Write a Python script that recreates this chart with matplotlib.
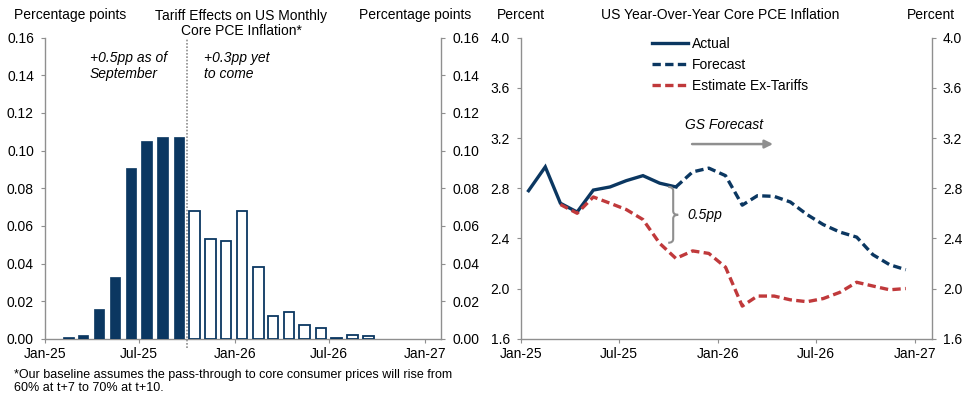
import numpy as np
import pandas as pd
import matplotlib
matplotlib.use("Agg")
import matplotlib.pyplot as plt
import matplotlib.dates as mdates
from matplotlib.path import Path
from matplotlib.patches import PathPatch

plt.rcParams['font.family'] = ['Liberation Sans', 'DejaVu Sans']
plt.rcParams['font.size'] = 10

NAVY = "#0b3761"
RED = "#c0393b"
GRAY = "#8f8f8f"

# ---- data: tariff effect on monthly core PCE (pp) ----
realized_months = pd.date_range("2025-02-01", "2025-09-01", freq="MS")
realized_vals = [0.001, 0.002, 0.016, 0.033, 0.091, 0.105, 0.107, 0.107]
future_months = pd.date_range("2025-10-01", "2026-09-01", freq="MS")
future_vals = [0.068, 0.053, 0.052, 0.068, 0.038, 0.012, 0.0145, 0.0075,
               0.006, 0.0004, 0.0023, 0.0017]

# ---- data: YoY core PCE (%) ----
actual_months = pd.date_range("2025-01-01", "2025-10-01", freq="MS")
actual_vals = [2.78, 2.97, 2.68, 2.61, 2.785, 2.81, 2.86, 2.90, 2.84, 2.81]
forecast_months = pd.date_range("2025-10-01", "2026-12-01", freq="MS")
forecast_vals = [2.81, 2.93, 2.96, 2.90, 2.665, 2.74, 2.735, 2.69, 2.59,
                 2.51, 2.45, 2.41, 2.27, 2.19, 2.15]
extariff_months = pd.date_range("2025-03-01", "2026-12-01", freq="MS")
extariff_vals = [2.67, 2.60, 2.73, 2.68, 2.63, 2.55, 2.36, 2.24, 2.30, 2.28,
                 2.17, 1.86, 1.94, 1.94, 1.91, 1.895, 1.92, 1.97, 2.05, 2.02,
                 1.99, 2.00]

mid = pd.Timedelta(days=14)
xticks = pd.to_datetime(["2025-01-01", "2025-07-01", "2026-01-01",
                         "2026-07-01", "2027-01-01"])
xlim = (pd.Timestamp("2025-01-01"), pd.Timestamp("2027-02-01"))

fig = plt.figure(figsize=(9.67, 3.96), dpi=100)
W, H = 967, 396


def fx(px):
    return px / W


def fy(py):
    return 1 - py / H


def style_axes(ax, yticks, fmt):
    ax.set_xlim(*xlim)
    ax.set_xticks(xticks)
    ax.xaxis.set_major_formatter(mdates.DateFormatter("%b-%y"))
    ax.set_yticks(yticks)
    ax.set_yticklabels([fmt.format(t) for t in yticks])
    ax.set_ylim(yticks[0], yticks[-1])
    ax.spines['top'].set_visible(False)
    for s in ['left', 'right', 'bottom']:
        ax.spines[s].set_color(GRAY)
        ax.spines[s].set_linewidth(1.0)
    ax.tick_params(axis='y', left=True, right=True, labelleft=True,
                   labelright=True, length=3, pad=5, color=GRAY,
                   labelsize=10)
    ax.tick_params(axis='x', length=3, pad=3, color=GRAY, labelsize=10)


# ---------------- left panel ----------------
ax1 = fig.add_axes([fx(45), fy(339), fx(441) - fx(45), fy(37.5) - fy(339)])
bw = 20
ax1.bar(realized_months + mid, realized_vals, width=bw, color=NAVY,
        edgecolor=NAVY, linewidth=0.5, zorder=3)
ax1.bar(future_months + mid, future_vals, width=bw, color="white",
        edgecolor=NAVY, linewidth=1.3, zorder=3)
style_axes(ax1, np.arange(0, 0.161, 0.02), "{:.2f}")
ax1.axvline(pd.Timestamp("2025-10-01"), ymin=-0.03, ymax=1, color=GRAY,
            linestyle=(0, (1, 1)), linewidth=1.2, clip_on=False, zorder=4)
ax1.text(fx(90), fy(66), "+0.5pp as of\nSeptember", transform=fig.transFigure,
         style='italic', ha='left', va='center', linespacing=1.15)
ax1.text(fx(204), fy(66), "+0.3pp yet\nto come", transform=fig.transFigure,
         style='italic', ha='left', va='center', linespacing=1.15)

fig.text(fx(70), fy(15), "Percentage points", ha='center', va='center')
fig.text(fx(241), fy(23.5), "Tariff Effects on US Monthly\nCore PCE Inflation*",
         ha='center', va='center', linespacing=1.15)
fig.text(fx(415), fy(15), "Percentage points", ha='center', va='center')
fig.text(fx(14), fy(381.5),
         "*Our baseline assumes the pass-through to core consumer prices will rise from\n"
         "60% at t+7 to 70% at t+10.", ha='left', va='center', fontsize=9,
         linespacing=1.05)

# ---------------- right panel ----------------
ax2 = fig.add_axes([fx(521), fy(338.7), fx(931.7) - fx(521), fy(37.7) - fy(338.7)])
dash = (0, (2.5, 1.3))
ax2.plot(extariff_months + mid, extariff_vals, color=RED, lw=2.4,
         linestyle=dash, zorder=4, label="Estimate Ex-Tariffs")
ax2.plot(actual_months + mid, actual_vals, color=NAVY, lw=2.4,
         solid_joinstyle='miter', zorder=3, label="Actual")
ax2.plot(forecast_months + mid, forecast_vals, color=NAVY, lw=2.4,
         linestyle=dash, zorder=3, label="Forecast")
style_axes(ax2, np.round(np.arange(1.6, 4.01, 0.4), 1), "{:.1f}")

h, l = ax2.get_legend_handles_labels()
order = [1, 2, 0]
ax2.legend([h[i] for i in order], [l[i] for i in order], loc='upper left',
           bbox_to_anchor=(fx(652), fy(37)), bbox_transform=fig.transFigure,
           frameon=False, handlelength=2.6, handletextpad=0.3,
           labelspacing=0.5, borderpad=0, borderaxespad=0, fontsize=10)

# GS forecast arrow
ax2.annotate("", xy=(pd.Timestamp("2026-04-13"), 3.152),
             xytext=(pd.Timestamp("2025-11-14"), 3.152),
             arrowprops=dict(arrowstyle='-|>', color=GRAY, lw=1.8,
                             mutation_scale=12, shrinkA=0, shrinkB=0))
ax2.text(pd.Timestamp("2026-01-12"), 3.30, "GS Forecast", style='italic',
         ha='center', va='center')

# brace between forecast and ex-tariff estimate
bx = mdates.date2num(pd.Timestamp("2025-10-10"))
d = 1.85  # days per pixel
top, bot = 2.81, 2.365
midv = (top + bot) / 2
verts = [(bx - 5 * d, top), (bx, top), (bx, top - 0.03),
         (bx, midv + 0.03),
         (bx, midv), (bx + 5 * d, midv),
         (bx, midv), (bx, midv - 0.03),
         (bx, bot + 0.03),
         (bx, bot), (bx - 5 * d, bot)]
codes = [Path.MOVETO, Path.CURVE3, Path.CURVE3, Path.LINETO,
         Path.CURVE3, Path.CURVE3, Path.CURVE3, Path.CURVE3,
         Path.LINETO, Path.CURVE3, Path.CURVE3]
ax2.add_patch(PathPatch(Path(verts, codes), facecolor='none', edgecolor=GRAY,
                        lw=1.5, zorder=5))
ax2.text(pd.Timestamp("2025-11-05"), midv, "0.5pp", style='italic',
         ha='left', va='center')

fig.text(fx(521), fy(15), "Percent", ha='center', va='center')
fig.text(fx(720), fy(15), "US Year-Over-Year Core PCE Inflation",
         ha='center', va='center')
fig.text(fx(931), fy(15), "Percent", ha='center', va='center')

fig.savefig("out.png", dpi=100)
